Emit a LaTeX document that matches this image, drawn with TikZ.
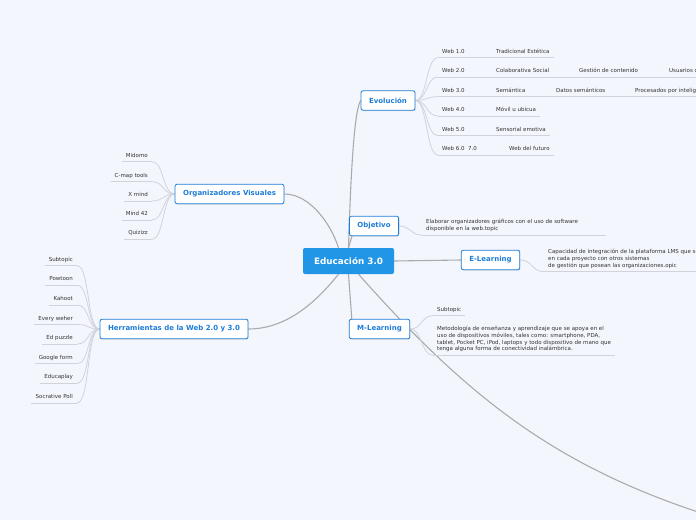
\documentclass[tikz,border=0pt]{standalone}
\usepackage{fontspec}
\setmainfont{DejaVu Sans}
\usetikzlibrary{backgrounds,shadows}
\definecolor{mapbg}{HTML}{F4F6FD}
\definecolor{mapblue}{HTML}{1E7DD8}
\definecolor{mapcore}{HTML}{2196E6}
\definecolor{maptext}{HTML}{333333}
\definecolor{mapline}{HTML}{D2D3DA}
\definecolor{mapstem}{HTML}{ABABAE}
\tikzset{
  core/.style={fill=mapcore, text=white, rounded corners=2pt, font=\fontsize{8.8}{10}\bfseries, minimum width=91pt, minimum height=26pt, inner sep=0pt},
  topic/.style={draw=mapblue, line width=0.8pt, fill=white, text=mapblue, rounded corners=2pt, font=\fontsize{7}{8}\bfseries, inner xsep=8pt, minimum height=19.5pt, drop shadow={shadow xshift=0.5pt, shadow yshift=-0.8pt, opacity=0.25}},
  sub/.style={font=\fontsize{5.5}{6.7}\selectfont, text=maptext, inner xsep=4pt, inner ysep=3pt, text height=4pt, text depth=1.3pt},
  leaf/.style={sub, anchor=south west},
  rleaf/.style={sub, anchor=south east},
  note/.style={font=\fontsize{5.5}{6.7}\selectfont, text=maptext, inner xsep=4pt, inner ysep=3pt, align=left, anchor=south west},
  stem/.style={draw=mapstem, line width=1.1pt},
  twig/.style={draw=mapline, line width=0.8pt}
}
\begin{document}
\begin{tikzpicture}[x=1pt,y=-1pt]
  \useasboundingbox (0,0) rectangle (696,520);
  % central topic and main branches
  \node[core] (edu) at (348.5,261) {Educación 3.0};
  \node[topic] (evo) at (388,100.5) {Evolución};
  \node[topic] (obj) at (374,226) {Objetivo};
  \node[topic] (eln) at (490.5,260) {E-Learning};
  \node[topic] (ml) at (379.5,329) {M-Learning};
  \node[topic] (org) at (229.5,194) {Organizadores Visuales};
  \node[topic] (herr) at (174,329) {Herramientas de la Web 2.0 y 3.0};
  \coordinate (far) at (720,519);
  % Evolucion
  \node[leaf] (web1) at (438,57.7) {Web 1.0};
  \node[leaf] (web2) at (438,77) {Web 2.0};
  \node[leaf] (web3) at (438,96.7) {Web 3.0};
  \node[leaf] (web4) at (438,116) {Web 4.0};
  \node[leaf] (web5) at (438,135.7) {Web 5.0};
  \node[leaf] (web6) at (438,155) {Web 6.0\ \ 7.0};
  \node[leaf] (trad) at (492,57.7) {Tradicional Estética};
  \node[leaf] (colab) at (492,77) {Colaborativa Social};
  \node[leaf] (gest) at (575,77) {Gestión de contenido};
  \node[leaf] (usu) at (665,77) {Usuarios c};
  \node[leaf] (sem) at (492,96.7) {Semántica};
  \node[leaf] (datos) at (552,96.7) {Datos semánticos};
  \node[leaf] (proc) at (631,96.7) {Procesados por intelig};
  \node[leaf] (movil) at (492,116) {Móvil u ubicua};
  \node[leaf] (sens) at (492,135.7) {Sensorial emotiva};
  \node[leaf] (fut) at (505,155) {Web del futuro};
  % Organizadores Visuales
  \node[rleaf] (mid) at (152,161.7) {Midomo};
  \node[rleaf] (cmap) at (152,181.7) {C-map tools};
  \node[rleaf] (xmind) at (152,201) {X mind};
  \node[rleaf] (mfour) at (152,220) {Mind 42};
  \node[rleaf] (quiz) at (152,239.3) {Quizizz};
  % Herramientas
  \node[rleaf] (h1) at (77,265.7) {Subtopic};
  \node[rleaf] (h2) at (77,285.3) {Powtoon};
  \node[rleaf] (h3) at (77,304.9) {Kahoot};
  \node[rleaf] (h4) at (77,324.5) {Every weher};
  \node[rleaf] (h5) at (77,344.1) {Ed puzzle};
  \node[rleaf] (h6) at (77,363.7) {Google form};
  \node[rleaf] (h7) at (77,383.3) {Educaplay};
  \node[rleaf] (h8) at (77,402.9) {Socrative Poll};
  % notes
  \node[note, text width=176pt] (objd) at (422,235) {Elaborar organizadores gráficos con el uso de software\\disponible en la web.topic};
  \node[note] (elnd) at (544,271.7) {Capacidad de integración de la plataforma LMS que se\\en cada proyecto con otros sistemas\\de gestión que posean las organizaciones.opic};
  \node[leaf] (mlsub) at (433,315.7) {Subtopic};
  \node[note] (mld) at (433,355.3) {Metodología de enseñanza y aprendizaje que se apoya en el\\uso de dispositivos móviles, tales como: smartphone, PDA,\\tablet, Pocket PC, iPod, laptops y todo dispositivo de mano que\\tenga alguna forma de conectividad inalámbrica.};
  \foreach \n in {web1,web2,web3,web4,web5,web6,trad,colab,gest,usu,sem,datos,proc,movil,sens,fut,mid,cmap,xmind,mfour,quiz,h1,h2,h3,h4,h5,h6,h7,h8,objd,elnd,mlsub,mld}
    \draw[twig] (\n.south west) -- (\n.south east);
  \begin{scope}[on background layer]
    \fill[mapbg] (0,0) rectangle (696,520);
    % main branches
    \draw[stem] (edu.north) .. controls +(3,-100) and +(-5,8) .. (evo.west);
    \draw[stem] (edu.north) -- ([xshift=3pt]obj.south west);
    \draw[stem] (edu.east) -- (eln.west);
    \draw[stem] (edu.south) -- ([xshift=3pt]ml.north west);
    \draw[stem] (org.east) .. controls +(25,0) and +(-8,-25) .. ([xshift=-10pt]edu.north);
    \draw[stem] (herr.east) .. controls +(40,0) and +(-20,25) .. ([xshift=-10pt]edu.south);
    \draw[stem] ([xshift=10pt]edu.south) .. controls (470,400) and (560,470) .. (far);
    % sub branches
    \foreach \n in {web1,web2,web3,web4,web5,web6}
      \draw[twig] (evo.east) .. controls +(12,0) and +(-12,0) .. (\n.south west);
    \foreach \a/\b in {web1/trad,web2/colab,colab/gest,gest/usu,web3/sem,sem/datos,datos/proc,web4/movil,web5/sens,web6/fut}
      \draw[twig] (\a.south east) -- (\b.south west);
    \foreach \n in {mid,cmap,xmind,mfour,quiz}
      \draw[twig] (org.west) .. controls +(-12,0) and +(12,0) .. (\n.south east);
    \foreach \n in {h1,h2,h3,h4,h5,h6,h7,h8}
      \draw[twig] (herr.west) .. controls +(-13,0) and +(13,0) .. (\n.south east);
    \draw[twig] (obj.east) .. controls +(12,0) and +(-12,0) .. (objd.south west);
    \draw[twig] (eln.east) .. controls +(12,0) and +(-12,0) .. (elnd.south west);
    \draw[twig] (ml.east) .. controls +(12,0) and +(-12,0) .. (mlsub.south west);
    \draw[twig] (ml.east) .. controls +(12,0) and +(-12,0) .. (mld.south west);
  \end{scope}
\end{tikzpicture}
\end{document}
